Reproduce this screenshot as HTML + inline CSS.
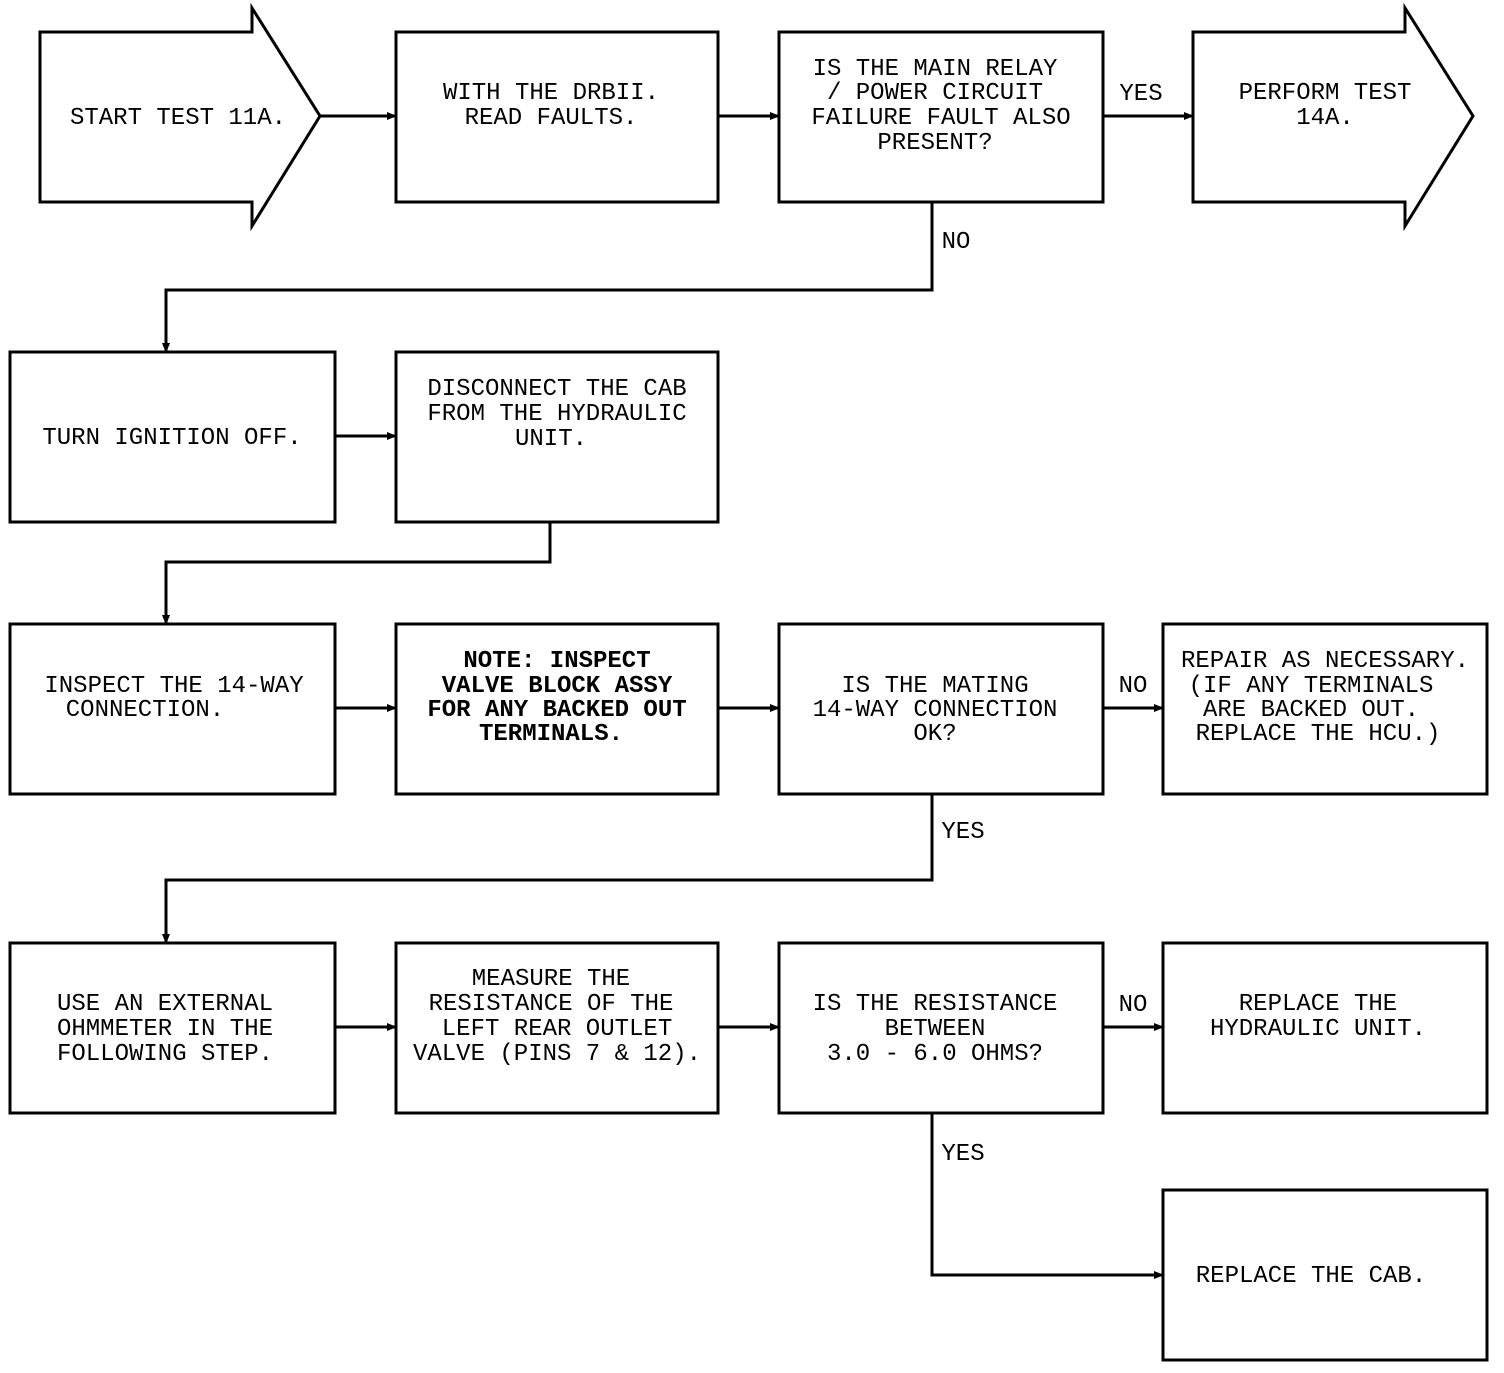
<!DOCTYPE html>
<html><head><meta charset="utf-8"><style>
html,body{margin:0;padding:0;background:#fff}
svg text{font-family:"Liberation Mono",monospace;font-size:24px;fill:#000;text-anchor:middle}
</style></head><body>
<svg width="1504" height="1368" viewBox="0 0 1504 1368" xmlns="http://www.w3.org/2000/svg">
<defs><marker id="a" markerWidth="10" markerHeight="10" refX="9" refY="5" orient="auto" markerUnits="userSpaceOnUse"><path d="M0,1 L10,5 L0,9 z" fill="#000"/></marker></defs>
<g fill="none" stroke="#000" stroke-width="3">
<path d="M40,32 H252 V8 L320,116 L252,226 V202 H40 Z"/>
<path d="M1193,32 H1405 V8 L1473,116 L1405,226 V202 H1193 Z"/>
<rect x="396" y="32" width="322" height="170"/>
<rect x="779" y="32" width="324" height="170"/>
<rect x="10" y="352" width="325" height="170"/>
<rect x="396" y="352" width="322" height="170"/>
<rect x="10" y="624" width="325" height="170"/>
<rect x="396" y="624" width="322" height="170"/>
<rect x="779" y="624" width="324" height="170"/>
<rect x="1163" y="624" width="324" height="170"/>
<rect x="10" y="943" width="325" height="170"/>
<rect x="396" y="943" width="322" height="170"/>
<rect x="779" y="943" width="324" height="170"/>
<rect x="1163" y="943" width="324" height="170"/>
<rect x="1163" y="1190" width="324" height="170"/>
<g marker-end="url(#a)">
<path d="M320,116 H396"/>
<path d="M718,116 H779"/>
<path d="M1103,116 H1193"/>
<path d="M932,202 V290 H166 V352"/>
<path d="M335,436 H396"/>
<path d="M550,522 V562 H166 V624"/>
<path d="M335,708 H396"/>
<path d="M718,708 H779"/>
<path d="M1103,708 H1163"/>
<path d="M932,794 V880 H166 V943"/>
<path d="M335,1027 H396"/>
<path d="M718,1027 H779"/>
<path d="M1103,1027 H1163"/>
<path d="M932,1113 V1275 H1163"/>
</g>
</g>
<text x="178" y="124">START TEST 11A.</text>
<text x="551" y="99">WITH THE DRBII.</text>
<text x="551" y="124">READ FAULTS.</text>
<text x="935" y="75">IS THE MAIN RELAY</text>
<text x="935" y="99">/ POWER CIRCUIT</text>
<text x="941" y="124">FAILURE FAULT ALSO</text>
<text x="935" y="149">PRESENT?</text>
<text x="1141" y="100">YES</text>
<text x="1325" y="99">PERFORM TEST</text>
<text x="1325" y="124">14A.</text>
<text x="956" y="248">NO</text>
<text x="172" y="444">TURN IGNITION OFF.</text>
<text x="557" y="395">DISCONNECT THE CAB</text>
<text x="557" y="420">FROM THE HYDRAULIC</text>
<text x="551" y="445">UNIT.</text>
<text x="174" y="692">INSPECT THE 14-WAY</text>
<text x="145" y="716">CONNECTION.</text>
<g style="font-weight:bold">
<text x="557" y="667">NOTE:  INSPECT</text>
<text x="557" y="692">VALVE BLOCK ASSY</text>
<text x="557" y="716">FOR ANY BACKED OUT</text>
<text x="551" y="740">TERMINALS.</text>
</g>
<text x="935" y="692">IS THE MATING</text>
<text x="935" y="716">14-WAY CONNECTION</text>
<text x="935" y="740">OK?</text>
<text x="1133" y="692">NO</text>
<text x="1325" y="667">REPAIR AS NECESSARY.</text>
<text x="1311" y="692">(IF ANY TERMINALS</text>
<text x="1311" y="716">ARE BACKED OUT.</text>
<text x="1318" y="740">REPLACE THE HCU.)</text>
<text x="963" y="838">YES</text>
<text x="165" y="1010">USE AN EXTERNAL</text>
<text x="165" y="1035">OHMMETER IN THE</text>
<text x="165" y="1060">FOLLOWING STEP.</text>
<text x="551" y="985">MEASURE THE</text>
<text x="551" y="1010">RESISTANCE OF THE</text>
<text x="557" y="1035">LEFT REAR OUTLET</text>
<text x="557" y="1060">VALVE (PINS 7 &amp; 12).</text>
<text x="935" y="1010">IS THE RESISTANCE</text>
<text x="935" y="1035">BETWEEN</text>
<text x="935" y="1060">3.0 - 6.0 OHMS?</text>
<text x="1133" y="1011">NO</text>
<text x="1318" y="1010">REPLACE THE</text>
<text x="1318" y="1035">HYDRAULIC UNIT.</text>
<text x="963" y="1160">YES</text>
<text x="1311" y="1282">REPLACE THE CAB.</text>
</svg>
</body></html>
